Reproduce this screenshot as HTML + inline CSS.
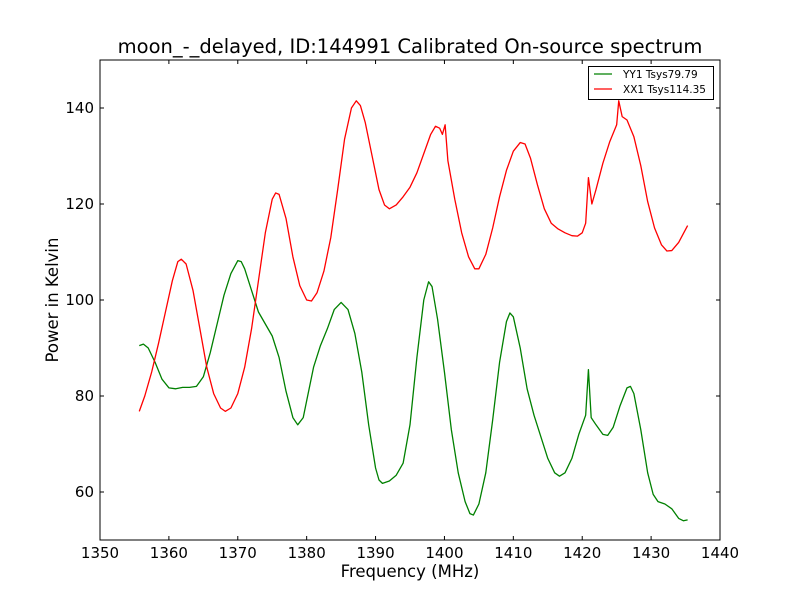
<!DOCTYPE html>
<html><head><meta charset="utf-8">
<style>
html,body{margin:0;padding:0;background:#fff;}
svg{display:block;font-family:"DejaVu Sans","Liberation Sans",sans-serif;}
</style></head>
<body>
<svg id="chart" width="800" height="600" viewBox="0 0 800 600">
<rect x="0" y="0" width="800" height="600" fill="#fff"/>
<text x="410" y="53" font-size="19.5" text-anchor="middle">moon_-_delayed, ID:144991 Calibrated On-source spectrum</text>
<text x="410" y="577" font-size="16.5" text-anchor="middle">Frequency (MHz)</text>
<text transform="translate(58,300) rotate(-90)" font-size="16.5" text-anchor="middle">Power in Kelvin</text>
<g id="plot"></g>
</svg>
<script>
const xTicks=[1350,1360,1370,1380,1390,1400,1410,1420,1430,1440];
const yTicks=[60,80,100,120,140];
const yyFreq=[1355.7,1356.3,1357,1358,1359,1360,1361,1362,1363,1364,1365,1366,1367,1368,1369,1370,1370.5,1371,1372,1373,1374,1375,1376,1377,1378,1378.7,1379.5,1380,1381,1382,1383,1384,1385,1386,1387,1388,1389,1390,1390.5,1391,1392,1393,1394,1395,1396,1397,1397.7,1398.2,1399,1400,1401,1402,1403,1403.7,1404.2,1405,1406,1407,1408,1409,1409.5,1410,1411,1412,1413,1414,1415,1416,1416.7,1417.5,1418.5,1419.5,1420.5,1420.9,1421.3,1422,1423,1423.7,1424.5,1425.5,1426.5,1427,1427.5,1428.5,1429.5,1430.3,1431,1432,1433,1434,1434.7,1435.3];
const yyPower=[90.5,90.8,90,87,83.5,81.7,81.5,81.8,81.8,82,84,89,95,101,105.5,108.2,108,106.5,102,97.5,95,92.5,88,81,75.5,74,75.5,79,86,90.5,94,98,99.5,98,93,85,74,65,62.5,61.8,62.3,63.5,66,74,88,100,103.8,102.8,96,85,73,64,58,55.5,55.2,57.5,64,75,87,95.5,97.3,96.5,90,81.5,76,71.5,67,64,63.3,64,67,72,76,85.5,75.5,74,72,71.8,73.5,78,81.7,82,80.5,73,64,59.5,58,57.5,56.5,54.5,54,54.2];
const xxFreq=[1355.7,1356.5,1357.5,1358.5,1359.5,1360.5,1361.3,1361.8,1362.5,1363.5,1364.5,1365.5,1366.5,1367.5,1368.2,1369,1370,1371,1372,1373,1374,1375,1375.5,1376,1377,1378,1379,1380,1380.7,1381.5,1382.5,1383.5,1384.5,1385.5,1386.5,1387.2,1387.8,1388.5,1389.5,1390.5,1391.3,1392,1393,1394,1395,1396,1397,1398,1398.7,1399.3,1399.7,1400.1,1400.5,1401.5,1402.5,1403.5,1404.4,1405,1406,1407,1408,1409,1410,1411,1411.7,1412.5,1413.5,1414.5,1415.5,1416.5,1417.5,1418.5,1419.3,1420,1420.5,1420.9,1421.4,1422,1423,1424,1425,1425.3,1425.8,1426.5,1427.5,1428.5,1429.5,1430.5,1431.5,1432.3,1433,1434,1435.3];
const xxPower=[76.8,80,85,91,97.5,104,108,108.5,107.5,102,94,86,80.5,77.5,76.8,77.5,80.5,86,94,104,114,121,122.3,122,117,109,103,100,99.8,101.5,106,113,123,133.5,140,141.5,140.5,137,130,123,119.8,119,119.8,121.5,123.5,126.5,130.5,134.5,136.2,135.8,134.5,136.5,129,121,114,109,106.5,106.5,109.5,115,121.5,127,131,132.8,132.5,129.5,124,119,116,114.8,114,113.4,113.3,114,116,125.5,120,123,128.5,133,136.5,141.5,138.2,137.5,134,128,120.5,115,111.5,110.2,110.3,112,115.5];

const NS='http://www.w3.org/2000/svg';
const L=100,R=720,T=60,B=540,xMin=1350,xMax=1440,yMin=50,yMax=150;
const sx=v=>L+(v-xMin)/(xMax-xMin)*(R-L);
const sy=v=>B-(v-yMin)/(yMax-yMin)*(B-T);
const g=document.getElementById('plot');
function mk(tag,attrs){const e=document.createElementNS(NS,tag);for(const k in attrs)e.setAttribute(k,attrs[k]);g.appendChild(e);return e;}

function series(fx,py,color,name){
  const d=fx.map((f,i)=>(i?'L':'M')+sx(f).toFixed(2)+','+sy(py[i]).toFixed(2)).join('');
  const p=mk('path',{d:d,fill:'none',stroke:color,'stroke-width':1.3,'stroke-linejoin':'round'});
  
  
}
series(yyFreq,yyPower,'#008000','yy1-line');
series(xxFreq,xxPower,'#ff0000','xx1-line');

const frame=mk('rect',{x:L,y:T,width:R-L,height:B-T,fill:'none',stroke:'#000','stroke-width':1});



xTicks.forEach(t=>{
  const x=sx(t);
  mk('line',{x1:x,y1:B,x2:x,y2:B-4,stroke:'#000'});
  mk('line',{x1:x,y1:T,x2:x,y2:T+4,stroke:'#000'});
  const tx=mk('text',{x:x,y:B+18,'font-size':15,'text-anchor':'middle'});
  tx.textContent=t;
  
  
});
yTicks.forEach(t=>{
  const y=sy(t);
  mk('line',{x1:L,y1:y,x2:L+4,y2:y,stroke:'#000'});
  mk('line',{x1:R,y1:y,x2:R-4,y2:y,stroke:'#000'});
  const ty=mk('text',{x:L-6,y:y+5,'font-size':15,'text-anchor':'end'});
  ty.textContent=t;
  
  
});

const lg=mk('rect',{x:588.5,y:66.5,width:125,height:33,fill:'#fff',stroke:'#000','stroke-width':1});


[['YY1 Tsys79.79','#008000',74],['XX1 Tsys114.35','#ff0000',89]].forEach(([lab,c,y],i)=>{
  mk('line',{x1:594,y1:y,x2:612,y2:y,stroke:c,'stroke-width':1.3});
  const t=mk('text',{x:623,y:y+4,'font-size':10.5});
  t.textContent=lab;
  
  
});
</script>
</body></html>
